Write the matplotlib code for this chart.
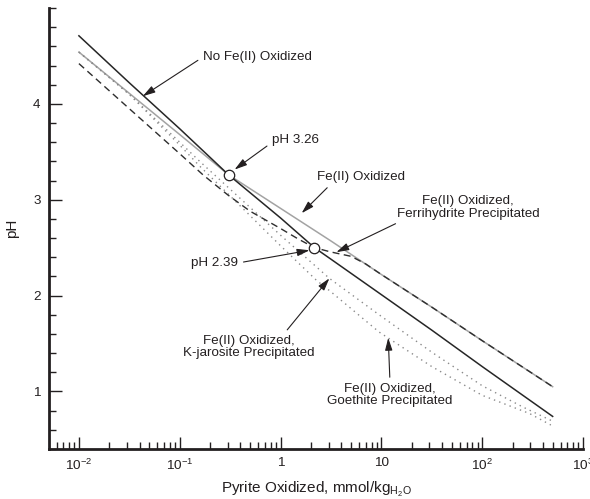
import matplotlib
matplotlib.use("Agg")
import matplotlib.pyplot as plt
from matplotlib.ticker import FixedLocator, FixedFormatter, LogLocator, NullFormatter, MultipleLocator
import numpy as np

plt.rcParams['font.family'] = ['Liberation Sans', 'DejaVu Sans']
plt.rcParams['mathtext.fontset'] = 'custom'
plt.rcParams['mathtext.rm'] = 'Liberation Sans'
plt.rcParams['mathtext.it'] = 'Liberation Sans:italic'
plt.rcParams['mathtext.bf'] = 'Liberation Sans:bold'

INK = '#231f20'

# ---- data (pyrite oxidized, mmol/kgH2O  vs  pH) ----
no_fe_x = [0.01, 0.0316, 0.1, 0.305, 1, 2.17, 3.16, 10, 31.6, 100, 500]
no_fe_ph = [4.71, 4.22, 3.74, 3.26, 2.81, 2.50, 2.38, 2.01, 1.64, 1.26, 0.74]

fe_ox_x = [0.01, 0.0316, 0.1, 0.305, 1, 3.16, 10, 31.6, 100, 500]
fe_ox_ph = [4.54, 4.11, 3.68, 3.26, 2.91, 2.57, 2.22, 1.88, 1.53, 1.05]

ferri_x = [0.01, 0.0316, 0.1, 0.17, 0.3, 0.5, 1, 1.5, 2.17, 3.16, 5, 7, 10, 31.6, 100, 500]
ferri_ph = [4.42, 3.95, 3.48, 3.26, 3.05, 2.88, 2.70, 2.59, 2.50, 2.455, 2.41, 2.33, 2.22, 1.88, 1.53, 1.05]

jaro_x = [0.01, 0.0316, 0.1, 0.158, 0.316, 1, 3.05, 9.5, 31.6, 100, 251, 500]
jaro_ph = [4.54, 4.10, 3.60, 3.40, 3.11, 2.63, 2.18, 1.80, 1.41, 1.06, 0.84, 0.69]

goe_x = [0.01, 0.0316, 0.1, 0.158, 0.316, 1, 2.27, 3.16, 9.5, 31.6, 100, 295, 480]
goe_ph = [4.54, 4.10, 3.57, 3.35, 3.04, 2.52, 2.16, 2.04, 1.62, 1.26, 0.96, 0.77, 0.65]

point_x = [0.305, 2.17]
point_ph = [3.26, 2.50]

xtick_vals = [0.01, 0.1, 1, 10, 100, 1000]
xtick_labels = [r'$\mathregular{10^{-2}}$', r'$\mathregular{10^{-1}}$', '1', '10',
                r'$\mathregular{10^{2}}$', r'$\mathregular{10^{3}}$']
ytick_vals = [1, 2, 3, 4]

W, H = 590, 499
fig = plt.figure(figsize=(W / 100, H / 100), dpi=100)
ax = fig.add_axes([49 / W, 1 - 449 / H, (583 - 49) / W, (449 - 8) / H])

ax.plot(fe_ox_x, fe_ox_ph, color='#a3a3a3', lw=1.1, zorder=2)
ax.plot(ferri_x, ferri_ph, color='#2e2e2e', lw=1.0, dashes=(5, 3.2), zorder=3)
ax.plot(jaro_x, jaro_ph, color='#8a8a8a', lw=1.0, dashes=(1, 3), zorder=2)
ax.plot(goe_x, goe_ph, color='#8a8a8a', lw=1.0, dashes=(1, 3), zorder=2)
ax.plot(no_fe_x, no_fe_ph, color='#262626', lw=1.1, zorder=4)
ax.plot(point_x, point_ph, ls='none', marker='o', ms=7.5, mfc='white',
        mec='#231f20', mew=0.9, zorder=6)

ax.set_xscale('log')
ax.set_xlim(0.00505, 1000)
ax.set_ylim(0.4, 5.0)

ax.xaxis.set_major_locator(FixedLocator(xtick_vals))
ax.xaxis.set_major_formatter(FixedFormatter(xtick_labels))
ax.xaxis.set_minor_locator(LogLocator(base=10, subs=np.arange(2, 10), numticks=20))
ax.xaxis.set_minor_formatter(NullFormatter())
ax.yaxis.set_major_locator(FixedLocator(ytick_vals))
ax.yaxis.set_minor_locator(MultipleLocator(0.2))

for s in ['top', 'right']:
    ax.spines[s].set_visible(False)
for s in ['left', 'bottom']:
    ax.spines[s].set_linewidth(2.0)
    ax.spines[s].set_color(INK)

ax.tick_params(which='major', direction='in', length=9, width=1.0, pad=6,
               labelsize=9.7, colors=INK)
ax.tick_params(which='minor', direction='in', length=5, width=1.0, colors=INK)

ax.set_xlabel(r'Pyrite Oxidized, mmol/kg$_{\mathregular{H_2O}}$', fontsize=11, color=INK, labelpad=5)
ax.set_ylabel('pH', fontsize=11, color=INK, labelpad=10)

def arrow(rel):
    return dict(arrowstyle='-|>,head_length=0.75,head_width=0.22', color=INK, lw=0.8,
                mutation_scale=10, shrinkA=2, shrinkB=0, relpos=rel)

fs = 9.6
ax.annotate('No Fe(II) Oxidized', xy=(0.043, 4.08), xytext=(203, H - 57),
            textcoords='figure pixels', ha='left', va='center', fontsize=fs,
            color=INK, arrowprops=arrow((0, 0.5)))
ax.annotate('pH 3.26', xy=(0.35, 3.315), xytext=(272, H - 140),
            textcoords='figure pixels', ha='left', va='center', fontsize=fs,
            color=INK, arrowprops=arrow((0, 0.3)))
ax.annotate('Fe(II) Oxidized', xy=(1.62, 2.86), xytext=(361, H - 177),
            textcoords='figure pixels', ha='center', va='center', fontsize=fs,
            color=INK, arrowprops=arrow((0.17, 0)))
ax.annotate('Fe(II) Oxidized,\nFerrihydrite Precipitated', xy=(3.58, 2.453),
            xytext=(468, H - 207.5), textcoords='figure pixels', ha='center',
            va='center', fontsize=fs, color=INK, linespacing=1.05,
            multialignment='center', arrowprops=arrow((0.05, 0)))
ax.annotate('pH 2.39', xy=(1.94, 2.473), xytext=(238, H - 263),
            textcoords='figure pixels', ha='right', va='center', fontsize=fs,
            color=INK, arrowprops=arrow((1, 0.5)))
ax.annotate('Fe(II) Oxidized,\nK-jarosite Precipitated', xy=(3.05, 2.18),
            xytext=(249, H - 347), textcoords='figure pixels', ha='center',
            va='center', fontsize=fs, color=INK, linespacing=1.05,
            multialignment='center', arrowprops=arrow((0.76, 1)))
ax.annotate('Fe(II) Oxidized,\nGoethite Precipitated', xy=(11.7, 1.56),
            xytext=(390, H - 395), textcoords='figure pixels', ha='center',
            va='center', fontsize=fs, color=INK, linespacing=1.05,
            multialignment='center', arrowprops=arrow((0.5, 1)))

fig.savefig('out.png', dpi=100)
